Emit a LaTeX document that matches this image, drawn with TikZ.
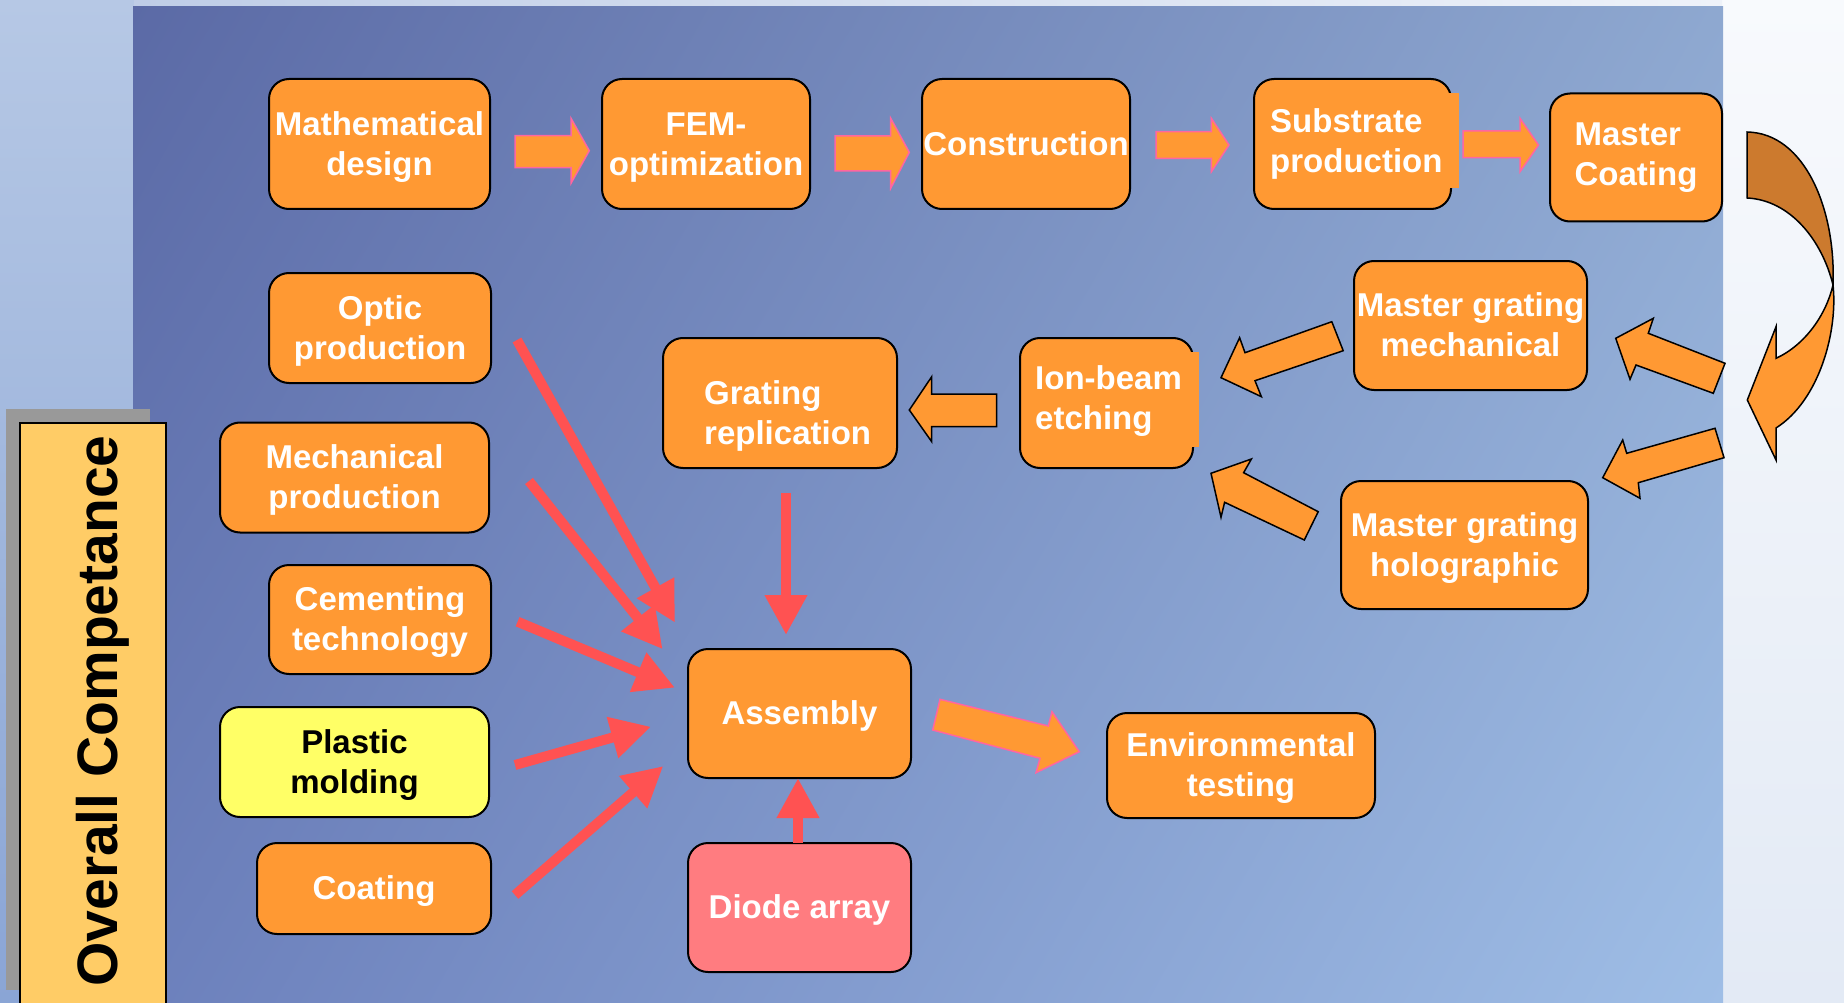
\documentclass[tikz,border=0pt]{standalone}
\usepackage{fontspec}
\setmainfont{Liberation Sans}
\usetikzlibrary{arrows.meta}
\definecolor{boxorange}{HTML}{FF9933}
\definecolor{boxyellow}{HTML}{FFFF66}
\definecolor{diodepink}{HTML}{FF7C80}
\definecolor{arrowred}{HTML}{FF5252}
\definecolor{pinkline}{HTML}{FF66A0}
\definecolor{brownarrow}{HTML}{CC7A2E}
\definecolor{leftTop}{HTML}{B6C8E5}
\definecolor{leftBot}{HTML}{8AA5D5}
\definecolor{rightTop}{HTML}{F8FAFD}
\definecolor{rightBot}{HTML}{E3EAF5}
\definecolor{topL}{HTML}{BFCDE7}
\definecolor{topR}{HTML}{EEF2F9}
\definecolor{ocyellow}{HTML}{FFCC66}
\definecolor{ocgray}{HTML}{999999}
% bilinear-ish panel gradient: dark top-left, light bottom-right
\pgfdeclarefunctionalshading{panelshade}{\pgfpoint{0bp}{0bp}}{\pgfpoint{100bp}{100bp}}{}{
  2 copy 2 copy
  -0.00133 mul exch 0.004 mul add 0.35675 add
  5 1 roll
  -0.00172 mul exch 0.00486 mul add 0.4235 add
  3 1 roll
  -0.00172 mul exch 0.0033 mul add 0.6975 add
}
\newcommand{\bxfont}{\fontsize{33}{40}\selectfont\bfseries}
\newcommand{\sst}{\rule[-0.212em]{0pt}{1.117em}}
\begin{document}
\begin{tikzpicture}[x=1pt,y=-1pt,
  box/.style={draw=black, line width=2pt, fill=boxorange, rounded corners=20pt,
    inner sep=0pt, text=white, font=\bxfont, align=center},
  boxtext/.style={text=white, font=\bxfont, align=left, inner sep=0pt, anchor=west},
  redarrow/.style={draw=arrowred, line width=10pt, -{Triangle[length=40pt,width=40pt]}},
  blockpink/.style={fill=boxorange, draw=pinkline, line width=1.5pt, line join=miter},
  blockblack/.style={fill=boxorange, draw=black, line width=1.5pt, line join=miter}]
\useasboundingbox (0,0) rectangle (1844,1003);
% background
\shade[top color=leftTop, bottom color=leftBot] (0,0) rectangle (134,1003);
\shade[top color=rightTop, bottom color=rightBot] (1722,0) rectangle (1844,1003);
\shade[left color=topL, right color=topR] (134,0) rectangle (1722,7);
\shade[shading=panelshade] (133,7) rectangle (1723,1003);

% Overall Competance
\fill[ocgray] (6,409) rectangle (150,990);
\draw[fill=ocyellow, line width=2.5pt] (20,423) rectangle (166,1010);
\node[rotate=90, anchor=base, inner sep=0pt, font=\fontsize{57}{60}\selectfont\bfseries] (oc) at (117,711) {Overall Competance};

% top row
\node[box, minimum width=221pt, minimum height=130pt] (math) at (379.5,144) {\sst Mathematical\\\sst design};
\node[box, minimum width=208pt, minimum height=130pt] (fem) at (706,144) {\sst FEM-\\\sst optimization};
\node[box, minimum width=208pt, minimum height=130pt] (cons) at (1026,144) {\sst Construction};
\node[box, minimum width=197pt, minimum height=130pt] (subs) at (1352.5,144) {};
\fill[boxorange] (1400,93) rectangle (1459,188);
\node[boxtext] (subs-t) at (1270,143.5) {Substrate\\production};
\node[box, minimum width=172pt, minimum height=128pt, align=left] (mcoat) at (1636,157.5) {Master\\Coating};

% left column
\node[box, minimum width=222pt, minimum height=110pt] (optic) at (380,328) {\sst Optic\\\sst production};
\node[box, minimum width=269pt, minimum height=110pt] (mech) at (354.5,477.5) {\sst Mechanical\\\sst production};
\node[box, minimum width=222pt, minimum height=109pt] (cement) at (380,619.5) {\sst Cementing\\\sst technology};
\node[box, fill=boxyellow, text=black, minimum width=269pt, minimum height=110pt] (plastic) at (354.5,762) {\sst Plastic\\\sst molding};
\node[box, minimum width=234pt, minimum height=91pt] (coat) at (374,888.5) {\sst Coating};

% middle
\node[box, minimum width=223pt, minimum height=129pt] (asm) at (799.5,713.5) {\sst Assembly};
\node[box, fill=diodepink, minimum width=223pt, minimum height=129pt] (diode) at (799.5,907.5) {\sst Diode array};
\node[box, minimum width=234pt, minimum height=130pt] (grat) at (780,403) {};
\node[boxtext] (grat-t) at (704,415.5) {Grating\\replication};
\node[box, minimum width=173pt, minimum height=130pt] (ion) at (1106.5,403) {};
\fill[boxorange] (1150,351.7) rectangle (1198.5,446.7);
\node[boxtext] (ion-t) at (1035,401.5) {Ion-beam\\etching};

% right
\node[box, minimum width=233pt, minimum height=129pt] (mgm) at (1470.5,325.5) {\sst Master grating\\\sst mechanical};
\node[box, minimum width=247pt, minimum height=128pt] (mgh) at (1464.5,545) {\sst Master grating\\\sst holographic};
\node[box, minimum width=268pt, minimum height=105pt] (env) at (1241,765.5) {\sst Environmental\\\sst testing};

% top row block arrows (pink outline)
\draw[blockpink] (515,135.7) -- (571,135.7) -- (571,118.3) -- (589.3,150.7) -- (571,183.3) -- (571,167.7) -- (515,167.7) -- cycle;
\draw[blockpink] (835,136) -- (890.7,136) -- (890.7,118.3) -- (909.3,152.3) -- (890.7,188.3) -- (890.7,171) -- (835,171) -- cycle;
\draw[blockpink] (1156,131.7) -- (1211.4,131.7) -- (1211.4,118.3) -- (1229,145) -- (1211.4,171.7) -- (1211.4,158.3) -- (1156,158.3) -- cycle;
\draw[blockpink] (1463,131) -- (1520,131) -- (1520,118.3) -- (1538.5,145) -- (1520,171.7) -- (1520,157.7) -- (1463,157.7) -- cycle;

% assembly -> environmental
\draw[blockpink] (940,699.3) -- (1048.3,726) -- (1052,711.7) -- (1079.3,751.7) -- (1036,772.7) -- (1040,758.3) -- (932.7,730) -- cycle;

% curved arrow from Master Coating
\draw[fill=boxorange, line width=1.5pt, line join=miter]
  (1833,285) .. controls (1838,330) and (1820,400) .. (1776,428)
  -- (1776,460) -- (1747.3,400) -- (1776,326.7) -- (1776,358.3)
  .. controls (1805,345) and (1826,315) .. (1833,285) -- cycle;
\draw[fill=brownarrow, line width=1.5pt]
  (1747,132) .. controls (1805,133) and (1836,210) .. (1833,285)
  .. controls (1822,240) and (1790,200) .. (1747,198) -- cycle;

% black outlined block arrows
\draw[blockblack] (1615.7,338.3) -- (1653.3,318.3) -- (1648.3,333.3) -- (1725,363.3) -- (1713.3,393.3) -- (1636,365) -- (1630,379.3) -- cycle;
\draw[blockblack] (1602.7,477.7) -- (1622.7,440) -- (1626.7,453.3) -- (1715,428.3) -- (1724,457.7) -- (1638.3,482.7) -- (1640,498.3) -- cycle;
\draw[blockblack] (1221,377.7) -- (1239.6,337.7) -- (1245,352.7) -- (1331.8,321.7) -- (1343.2,350.7) -- (1255,380.7) -- (1261.4,396.7) -- cycle;
\draw[blockblack] (1211,473.3) -- (1251.4,459) -- (1243.6,472.7) -- (1318.2,511.7) -- (1304.3,540) -- (1224.6,502.3) -- (1221,517.3) -- cycle;
\draw[blockblack] (909.3,410) -- (931.7,376.7) -- (931.7,394) -- (996.7,394) -- (996.7,426.7) -- (931.7,426.7) -- (931.7,441.7) -- cycle;

% red arrows into assembly
\coordinate (r1s) at (517,340);   \coordinate (r1e) at (675,622.7);
\coordinate (r2s) at (529,481);   \coordinate (r2e) at (662.7,649.3);
\coordinate (r3s) at (517.6,621.7); \coordinate (r3e) at (675,687.7);
\coordinate (r4s) at (515,765);   \coordinate (r4e) at (651,726.7);
\coordinate (r5s) at (515,895);   \coordinate (r5e) at (663.3,766);
\coordinate (r6s) at (786,493);   \coordinate (r6e) at (786,635);
\coordinate (r7s) at (798,843);   \coordinate (r7e) at (798,778);
\draw[redarrow] (r1s) -- (r1e);
\draw[redarrow] (r2s) -- (r2e);
\draw[redarrow] (r3s) -- (r3e);
\draw[redarrow] (r4s) -- (r4e);
\draw[redarrow] (r5s) -- (r5e);
\draw[redarrow] (r6s) -- (r6e);
\draw[redarrow] (r7s) -- (r7e);
\end{tikzpicture}
\end{document}
